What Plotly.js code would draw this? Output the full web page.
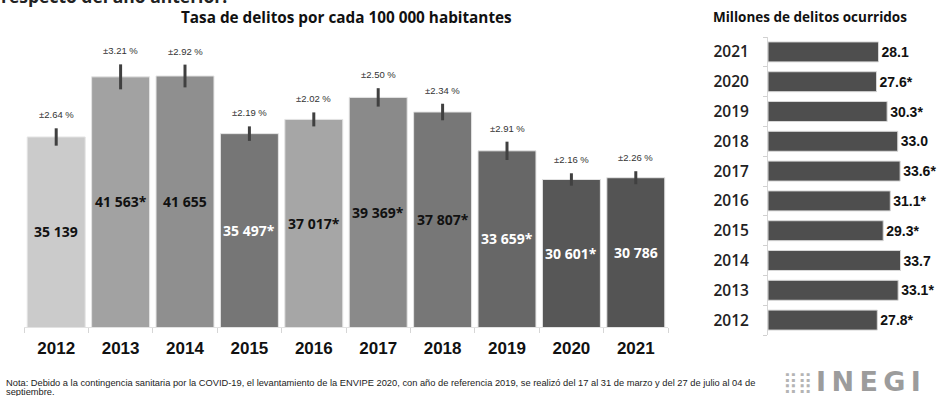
<!DOCTYPE html>
<html>
<head>
<meta charset="utf-8">
<script src="https://cdn.plot.ly/plotly-3.0.1.min.js"></script>
<style>html,body{margin:0;padding:0;background:#fff;}#chart{width:939px;height:396px;}</style>
</head>
<body>
<div id="chart"></div>
<script>
// ---- data ----
const years = ['2012','2013','2014','2015','2016','2017','2018','2019','2020','2021'];
const rateValues = [35139, 41563, 41655, 35497, 37017, 39369, 37807, 33659, 30601, 30786];
const rateSignificant = [false, true, false, true, true, true, true, true, true, false];
const rateErrorPct = [2.64, 3.21, 2.92, 2.19, 2.02, 2.50, 2.34, 2.91, 2.16, 2.26];
const crimeYears = ['2012','2013','2014','2015','2016','2017','2018','2019','2020','2021'];
const crimeMillions = [27.8, 33.1, 33.7, 29.3, 31.1, 33.6, 33.0, 30.3, 27.6, 28.1];
const crimeSignificant = [true, true, false, true, true, true, false, true, true, false];

// ---- styles / layout constants ----
const barColors = ['#cbcbcb','#a2a2a2','#8f8f8f','#767676','#a6a6a6','#8a8a8a','#777777','#676767','#575757','#545454'];
const labelColors = ['#111','#111','#111','#fff','#111','#111','#111','#fff','#fff','#fff'];
const rateAxisRange = [14840, 45500];

function fmtThousands(v){ return String(v).replace(/\B(?=(\d{3})+(?!\d))/g, ' '); }
const rateText = rateValues.map((v,i)=> fmtThousands(v) + (rateSignificant[i] ? '*' : ''));
const rateErr = rateValues.map((v,i)=> v * rateErrorPct[i] / 100);
const crimeText = crimeMillions.map((v,i)=> v.toFixed(1) + (crimeSignificant[i] ? '*' : ''));

const W = 939, H = 396;
const px = x => x / W;
const py = y => 1 - y / H;

const traces = [
  {
    type: 'bar', x: years, y: rateValues, xaxis: 'x', yaxis: 'y', width: 0.9,
    marker: {color: barColors, line: {color: '#e4e4e4', width: 1}},
    error_y: {type: 'data', array: rateErr, visible: true, color: '#404040', thickness: 3, width: 0},
    hoverinfo: 'none', showlegend: false
  },
  {
    type: 'bar', orientation: 'h', y: crimeYears, x: crimeMillions, xaxis: 'x2', yaxis: 'y2', width: 0.67,
    marker: {color: '#4e4e4e', line: {color: '#d8d8d8', width: 1}},
    text: crimeText, textposition: 'outside', cliponaxis: false, constraintext: 'none',
    textfont: {family: 'Liberation Sans Narrow, Arial Narrow, Liberation Sans, Arial, sans-serif', size: 14, color: '#111', weight: 'bold'},
    hoverinfo: 'none', showlegend: false
  }
];

const annotations = [];
years.forEach((yr,i)=>{
  annotations.push({
    xref: 'x', yref: 'y', x: i, y: rateValues[i] + rateErr[i],
    text: '±' + rateErrorPct[i].toFixed(2) + ' %', showarrow: false,
    yanchor: 'bottom', yshift: 6,
    font: {family: 'Liberation Sans, Arial, sans-serif', size: 9.5, color: '#333'}
  });
  annotations.push({
    xref: 'x', yref: 'y', x: i, y: (rateValues[i] + rateAxisRange[0]) / 2,
    text: rateText[i], showarrow: false, xanchor: 'center', yanchor: 'middle',
    font: {family: 'Open Sans, sans-serif', size: 14, color: labelColors[i], weight: 'bold'}
  });
});
annotations.push(
  {xref:'paper', yref:'paper', x: px(346), y: py(17), text: 'Tasa de delitos por cada 100 000 habitantes', showarrow:false,
   xanchor:'center', yanchor:'middle', font:{family:'Open Sans, sans-serif', size:15.3, color:'#111', weight:'bold'}},
  {xref:'paper', yref:'paper', x: px(810), y: py(17), text: 'Millones de delitos ocurridos', showarrow:false,
   xanchor:'center', yanchor:'middle', font:{family:'Open Sans, sans-serif', size:13.5, color:'#111', weight:'bold'}},
  {xref:'paper', yref:'paper', x: px(-1), y: py(10), text: 'respecto del año anterior.', showarrow:false,
   xanchor:'left', yanchor:'bottom', font:{family:'Open Sans, sans-serif', size:17.5, color:'#222', weight:'bold'}},
  {xref:'paper', yref:'paper', x: px(4), y: py(383), text: 'Nota: Debido a la contingencia sanitaria por la COVID-19, el levantamiento de la ENVIPE 2020, con año de referencia 2019, se realizó del 17 al 31 de marzo y del 27 de julio al 04 de', showarrow:false,
   xanchor:'left', yanchor:'middle', font:{family:'Liberation Sans, Arial, sans-serif', size:9.3, color:'#222'}},
  {xref:'paper', yref:'paper', x: px(4), y: py(392), text: 'septiembre.', showarrow:false,
   xanchor:'left', yanchor:'middle', font:{family:'Liberation Sans, Arial, sans-serif', size:9.3, color:'#222'}},
  {xref:'paper', yref:'paper', x: px(797), y: py(382), text: '⣿⣿', showarrow:false,
   xanchor:'center', yanchor:'middle', font:{family:'DejaVu Sans, sans-serif', size:20, color:'#b4b4b4'}},
  {xref:'paper', yref:'paper', x: px(868), y: py(381), text: 'I\u2009N\u2009E\u2009G\u2009I', showarrow:false,
   xanchor:'center', yanchor:'middle', font:{family:'DejaVu Sans, sans-serif', size:27, color:'#9c9c9c', weight:'bold'}}
);

const layout = {
  width: W, height: H,
  margin: {l:0, r:0, t:0, b:0, pad:0},
  paper_bgcolor: '#fff', plot_bgcolor: '#fff',
  showlegend: false,
  xaxis: {
    domain: [px(24), px(668)], type: 'category', range: [-0.5, 9.5], fixedrange: true,
    tickson: 'boundaries', ticks: 'outside', ticklen: 5, tickcolor: '#d6d6d6', tickwidth: 1,
    showline: true, linecolor: '#e2e2e2', linewidth: 1, showgrid: false, zeroline: false,
    ticklabelstandoff: 6, automargin: false,
    tickfont: {family: 'Liberation Sans, Arial, sans-serif', size: 17, color: '#111', weight: 'bold'}
  },
  yaxis: {
    domain: [py(327), py(40)], range: rateAxisRange, visible: false, fixedrange: true, automargin:false
  },
  xaxis2: {
    domain: [px(768), px(930)], range: [0, 41.2], visible: false, anchor: 'y2', fixedrange: true, automargin:false
  },
  yaxis2: {
    domain: [py(335), py(37)], type: 'category', range: [-0.5, 9.5], anchor: 'x2', fixedrange: true,
    tickson: 'boundaries', ticks: 'outside', ticklen: 4, tickcolor: '#d0d0d0',
    showline: true, linecolor: '#d6d6d6', linewidth: 1, showgrid: false, zeroline: false,
    ticklabelstandoff: 15, automargin: false,
    tickfont: {family: 'Open Sans, sans-serif', size: 15.5, color: '#222', weight: 600}
  },
  annotations: annotations
};

Plotly.newPlot('chart', traces, layout, {displayModeBar: false, staticPlot: true});
</script>
</body>
</html>
